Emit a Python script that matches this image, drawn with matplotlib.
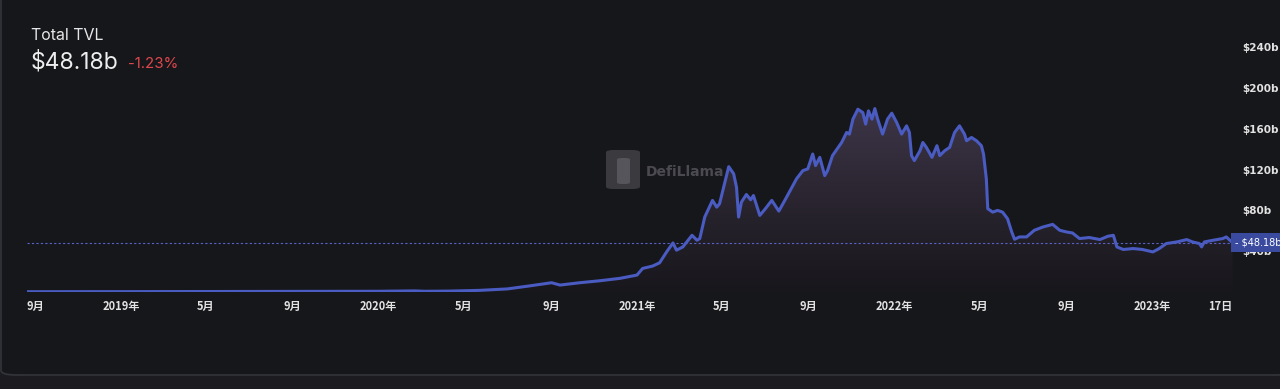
import matplotlib
matplotlib.use("Agg")
import matplotlib.pyplot as plt
import matplotlib.dates as mdates
import numpy as np
import pandas as pd
from matplotlib.colors import LinearSegmentedColormap
from matplotlib.patches import FancyBboxPatch

# Total TVL, billions of USD
dates = [
    "2018-08-21", "2018-11-03", "2019-01-01", "2019-04-22", "2019-08-28",
    "2020-01-01", "2020-01-31", "2020-02-22", "2020-03-06", "2020-04-11",
    "2020-05-23", "2020-07-01", "2020-08-01", "2020-09-02", "2020-09-14",
    "2020-10-12", "2020-11-09", "2020-12-08", "2021-01-01", "2021-01-09",
    "2021-01-23", "2021-02-02", "2021-02-12", "2021-02-21", "2021-02-26",
    "2021-03-07", "2021-03-20", "2021-03-27", "2021-03-31", "2021-04-07",
    "2021-04-18", "2021-04-24", "2021-04-28", "2021-05-05", "2021-05-11",
    "2021-05-18", "2021-05-22", "2021-05-25", "2021-05-29", "2021-06-05",
    "2021-06-11", "2021-06-15", "2021-06-24", "2021-07-02", "2021-07-11",
    "2021-07-21", "2021-08-01", "2021-08-15", "2021-08-24", "2021-08-31",
    "2021-09-07", "2021-09-11", "2021-09-17", "2021-09-24", "2021-09-28",
    "2021-10-05", "2021-10-18", "2021-10-25", "2021-10-29", "2021-11-03",
    "2021-11-10", "2021-11-17", "2021-11-21", "2021-11-25", "2021-11-30",
    "2021-12-04", "2021-12-08", "2021-12-15", "2021-12-22", "2021-12-28",
    "2022-01-04", "2022-01-11", "2022-01-18", "2022-01-22", "2022-01-25",
    "2022-01-29", "2022-02-06", "2022-02-10", "2022-02-15", "2022-02-23",
    "2022-03-02", "2022-03-06", "2022-03-13", "2022-03-20", "2022-03-27",
    "2022-04-03", "2022-04-10", "2022-04-13", "2022-04-20", "2022-04-27",
    "2022-05-04", "2022-05-07", "2022-05-11", "2022-05-13", "2022-05-20",
    "2022-05-27", "2022-06-03", "2022-06-10", "2022-06-16", "2022-06-20",
    "2022-06-27", "2022-07-07", "2022-07-18", "2022-07-30", "2022-08-13",
    "2022-08-23", "2022-09-02", "2022-09-10", "2022-09-20", "2022-10-04",
    "2022-10-19", "2022-10-30", "2022-11-07", "2022-11-12", "2022-11-21",
    "2022-12-05", "2022-12-18", "2023-01-02", "2023-01-11", "2023-01-21",
    "2023-02-05", "2023-02-19", "2023-02-27", "2023-03-09", "2023-03-12",
    "2023-03-16", "2023-03-28", "2023-04-11", "2023-04-16", "2023-04-25",
]
tvl = [
    0.3, 0.3, 0.35, 0.5, 0.6,
    0.7, 0.9, 1.1, 0.7, 0.9,
    1.6, 3.0, 5.9, 9.1, 6.8,
    9.1, 11.0, 13.4, 16.6, 23.1,
    25.4, 28.6, 39.3, 48.1, 41.0,
    44.2, 55.6, 50.7, 52.4, 73.5,
    89.8, 83.2, 86.5, 106.0, 122.9,
    115.8, 102.7, 73.5, 88.1, 95.6,
    90.4, 94.6, 75.1, 81.7, 89.8,
    79.3, 93.0, 110.9, 119.0, 120.7,
    135.3, 123.9, 132.0, 114.1, 119.0,
    133.7, 146.6, 156.4, 154.8, 169.5,
    179.2, 175.9, 164.6, 177.6, 169.5,
    179.8, 169.5, 154.8, 169.5, 175.3,
    166.1, 154.8, 162.9, 156.4, 133.7,
    128.8, 138.5, 146.6, 141.8, 132.0,
    143.4, 133.7, 138.5, 141.8, 156.4,
    162.9, 154.8, 148.3, 151.5, 148.3,
    143.4, 135.3, 110.9, 81.7, 78.3,
    80.0, 78.3, 71.9, 58.8, 51.7,
    54.0, 54.0, 60.5, 63.7, 66.3,
    60.5, 58.8, 57.9, 52.4, 53.4,
    51.4, 54.6, 55.6, 44.2, 41.7,
    42.6, 41.7, 39.3, 42.6, 47.5,
    49.1, 51.4, 49.1, 47.5, 44.2,
    49.1, 50.7, 52.4, 54.0, 48.18,
]
current_tvl = 48.18
change_pct = "-1.23%"

tick_dates = ["2018-09-01", "2019-01-01", "2019-05-01", "2019-09-01",
              "2020-01-01", "2020-05-01", "2020-09-01", "2021-01-01",
              "2021-05-01", "2021-09-01", "2022-01-01", "2022-05-01",
              "2022-09-01", "2023-01-01", "2023-04-08"]
tick_labels = ["9月", "2019年", "5月", "9月", "2020年", "5月", "9月", "2021年",
               "5月", "9月", "2022年", "5月", "9月", "2023年", "17日"]
y_ticks = [40, 80, 120, 160, 200, 240]

W, H = 1280, 389
PANEL = "#16171b"
LINE = "#4a5bc2"
CJK = ["Noto Sans CJK SC", "DejaVu Sans"]


def fx(x):
    return x / W


def fy(y):
    return 1 - y / H


fig = plt.figure(figsize=(W / 100, H / 100), dpi=100, facecolor="#1b1b20")
fig.patches.append(FancyBboxPatch((fx(1), fy(375)), fx(1290), fy(-5) - fy(375),
                                  boxstyle="round,pad=0,rounding_size=0.012",
                                  transform=fig.transFigure, facecolor=PANEL,
                                  edgecolor="#34353b", linewidth=1.2, zorder=-2))

# watermark, behind the chart
fig.patches.append(FancyBboxPatch((fx(606), fy(189)), fx(34), fy(150) - fy(189),
                                  boxstyle="round,pad=0,rounding_size=0.006",
                                  transform=fig.transFigure, facecolor="#3a3a3f",
                                  edgecolor="none", zorder=-1))
fig.patches.append(FancyBboxPatch((fx(617), fy(184)), fx(13), fy(158) - fy(184),
                                  boxstyle="round,pad=0,rounding_size=0.004",
                                  transform=fig.transFigure, facecolor="#55555b",
                                  edgecolor="none", zorder=-1))
fig.text(fx(646), fy(172), "DefiLlama", fontsize=10, color="#4a4a50",
         fontweight="bold", va="center", zorder=-1)

ax = fig.add_axes([fx(27), fy(292), fx(1233) - fx(27), fy(37) - fy(292)])
ax.set_facecolor("none")
for s in ax.spines.values():
    s.set_visible(False)

x = pd.to_datetime(dates)
xnum = mdates.date2num(x)
y = np.array(tvl)

x0 = mdates.date2num(pd.Timestamp("2018-08-20 17:00"))
x1 = mdates.date2num(pd.Timestamp("2023-04-25 12:00"))

# gradient fill under the curve
poly = ax.fill_between(xnum, y, 0, color="none", linewidth=0)
cmap = LinearSegmentedColormap.from_list("tvl", ["#18171c", "#2a2530", "#3e364a"])
grad = np.linspace(0, 1, 256).reshape(-1, 1)
img = ax.imshow(grad, extent=[x0, x1, 0, 185], origin="lower", aspect="auto",
                cmap=cmap, zorder=1)
img.set_clip_path(poly.get_paths()[0], transform=ax.transData)
ax.set_ylim(0, 250)
ax.set_xlim(x0, x1)

ax.plot(xnum, y, color=LINE, linewidth=2.2, solid_joinstyle="round",
        solid_capstyle="round", zorder=3)
ax.axhline(current_tvl, color="#5a62c8", linewidth=0.8, linestyle=(0, (2, 2)),
           zorder=2)

ax.yaxis.tick_right()
ax.set_yticks(y_ticks)
ax.set_yticklabels([f"${v}b" for v in y_ticks], fontsize=7.5, color="#e2e2e2",
                   fontweight="bold")
ax.tick_params(axis="y", length=0, pad=7)

ax.set_xticks(mdates.date2num(pd.to_datetime(tick_dates)))
ax.set_xticklabels(tick_labels, fontsize=8, color="#e2e2e2",
                   fontweight="bold", family=CJK)
ax.tick_params(axis="x", length=0, pad=6)

# current value tag
ax.text(1.002, current_tvl, f"- ${current_tvl}b", transform=ax.get_yaxis_transform(),
        ha="left", va="center", fontsize=7.0, color="white", clip_on=False,
        zorder=10, bbox=dict(boxstyle="square,pad=0.45", facecolor="#3a4a9e",
                             edgecolor="none"))

# header
fig.text(fx(31), fy(35), "Total TVL", fontsize=11.5, color="#e6e6e6",
         family="Inter", va="center")
fig.text(fx(31), fy(62), f"${current_tvl}b", fontsize=16.5, color="#eeeeee",
         family="Inter", va="center")
fig.text(fx(128), fy(64), change_pct, fontsize=10.8, color="#e0474c",
         family="Inter", va="center")

fig.savefig("out.png", dpi=100, facecolor=fig.get_facecolor())
